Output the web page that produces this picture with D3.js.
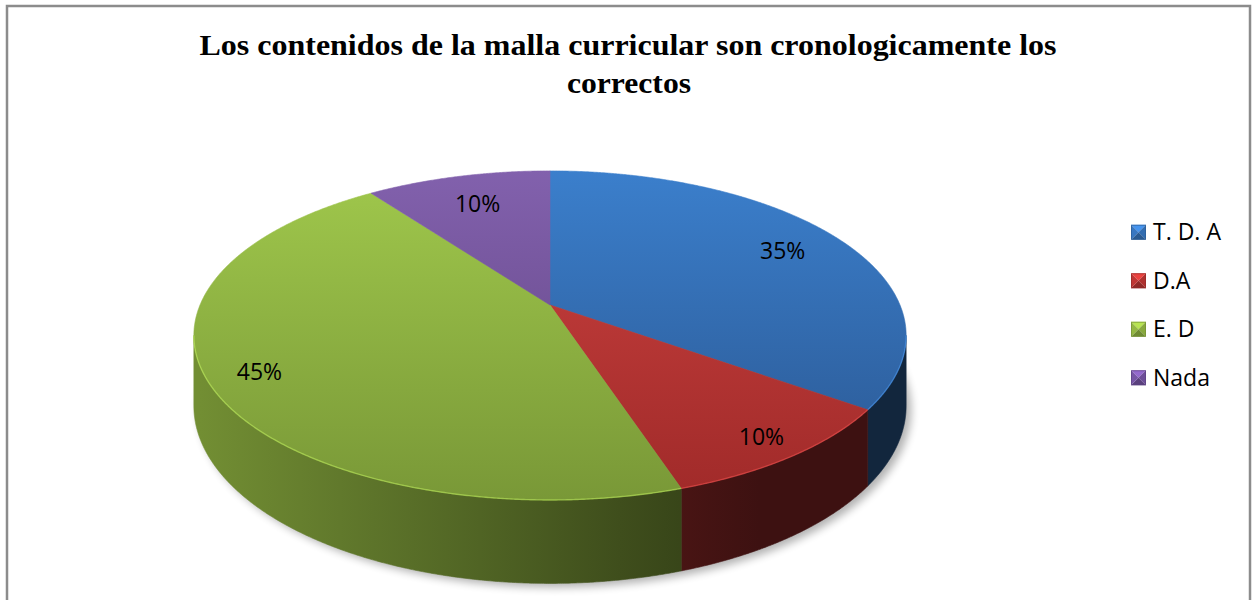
<!DOCTYPE html>
<html><head><meta charset="utf-8">
<script src="https://cdnjs.cloudflare.com/ajax/libs/d3/7.8.5/d3.min.js"></script>
<style>html,body{margin:0;padding:0;background:#fff;} svg{display:block;}</style>
</head><body>
<svg id="chart" width="1256" height="600"></svg>
<script>
const categories = ["T. D. A", "D.A", "E. D", "Nada"];
const values = [35, 10, 45, 10];
const valueLabels = ["35%", "10%", "45%", "10%"];
const titleLines = ["Los contenidos de la malla curricular son cronologicamente los", "correctos"];
const colors = ["#3673ba", "#b83432", "#8fb240", "#7352a0"];
const topLight = ["#3b7fcc", "#cc4240", "#a0c84c", "#8261ad"];
const topDark  = ["#2a5690", "#a02a29", "#799837", "#5f4280"];

const W = 1256, H = 600;
const svg = d3.select("#chart");
const defs = svg.append("defs");

// projection of a tilted disc with mild perspective
const cx = 550, cy = 305, R = 350, Ry = 158.9, kPersp = 0.185, depth = 68;
function proj(theta, f, h) {
  const d = f * Math.cos(theta);
  const w = 1 / (1 + kPersp * d);
  return [cx + R * f * Math.sin(theta) * w, cy - Ry * f * Math.cos(theta) * w + depth * h * w];
}
function arcPoints(a0, a1, h) {
  const n = Math.max(2, Math.ceil(Math.abs(a1 - a0) / 0.005) + 1);
  return d3.range(n).map(i => proj(a0 + (a1 - a0) * i / (n - 1), 1, h));
}
// silhouette angles
let thR = 0, thL = Math.PI, maxX = -1e9, minX = 1e9;
for (let t = 0; t <= 2 * Math.PI; t += 0.001) {
  const x = proj(t, 1, 0)[0];
  if (t <= Math.PI && x > maxX) { maxX = x; thR = t; }
  if (t >= Math.PI && x < minX) { minX = x; thL = t; }
}

const pie = d3.pie().sort(null).value(d => d).startAngle(0).endAngle(2 * Math.PI);
const arcs = pie(values);
const line = d3.line();

// gradients
function scaleColor(hex, s) {
  const c = d3.rgb(hex);
  return d3.rgb(c.r * s, c.g * s, c.b * s).formatHex();
}
arcs.forEach((a, i) => {
  const gt = defs.append("linearGradient").attr("id", "top" + i)
    .attr("gradientUnits", "userSpaceOnUse").attr("x1", 0).attr("y1", 170).attr("x2", 0).attr("y2", 500);
  gt.append("stop").attr("offset", 0).attr("stop-color", topLight[i]);
  gt.append("stop").attr("offset", 1).attr("stop-color", topDark[i]);
  const gs = defs.append("linearGradient").attr("id", "side" + i)
    .attr("gradientUnits", "userSpaceOnUse").attr("x1", cx - R).attr("y1", 0).attr("x2", cx + R).attr("y2", 0);
  [0, 0.2, 0.4, 0.6, 0.8, 1].forEach(t => {
    gs.append("stop").attr("offset", t).attr("stop-color", scaleColor(colors[i], Math.max(0.33, 0.8 - 0.6 * t)));
  });
});
const blur = defs.append("filter").attr("id", "shadowBlur").attr("x", "-20%").attr("y", "-20%").attr("width", "140%").attr("height", "140%");
blur.append("feGaussianBlur").attr("stdDeviation", 4);

// border
svg.append("rect").attr("x", 7).attr("y", 6).attr("width", 1243).attr("height", 640)
  .attr("fill", "none").attr("stroke", "#8c8c8c").attr("stroke-width", 2.5);

// title
const title = svg.append("g").attr("font-family", "'Liberation Serif', 'Times New Roman', serif")
  .attr("font-weight", "bold").attr("font-size", 30).attr("text-anchor", "middle");
title.append("text").attr("x", 628).attr("y", 55).attr("textLength", 857).attr("lengthAdjust", "spacingAndGlyphs").text(titleLines[0]);
title.append("text").attr("x", 629).attr("y", 93).attr("textLength", 124).attr("lengthAdjust", "spacingAndGlyphs").text(titleLines[1]);

// shadow
const pieG = svg.append("g");
pieG.append("path")
  .attr("d", line(arcPoints(0, 2 * Math.PI, 1)) + "Z")
  .attr("transform", "translate(5,4)")
  .attr("fill", "#000").attr("opacity", 0.3).attr("filter", "url(#shadowBlur)");

// sides
arcs.forEach((a, i) => {
  const a0 = Math.max(a.startAngle, thR), a1 = Math.min(a.endAngle, thL);
  if (a0 >= a1) return;
  const pts = arcPoints(a0, a1, 0).concat(arcPoints(a1, a0, 1));
  pieG.append("path").attr("d", line(pts) + "Z").attr("fill", "url(#side" + i + ")")
    .attr("stroke", "url(#side" + i + ")").attr("stroke-width", 0.6);
});
// tops
arcs.forEach((a, i) => {
  const pts = [[cx, cy]].concat(arcPoints(a.startAngle, a.endAngle, 0));
  pieG.append("path").attr("d", line(pts) + "Z").attr("fill", "url(#top" + i + ")")
    .attr("stroke", "url(#top" + i + ")").attr("stroke-width", 0.6);
});
// rim highlight on front edge
arcs.forEach((a, i) => {
  const a0 = Math.max(a.startAngle, thR), a1 = Math.min(a.endAngle, thL);
  if (a0 >= a1) return;
  pieG.append("path").attr("d", line(arcPoints(a0, a1, 0))).attr("fill", "none")
    .attr("stroke", d3.rgb(topLight[i]).brighter(0.6)).attr("stroke-width", 1.4).attr("opacity", 0.5);
});

// data labels
arcs.forEach((a, i) => {
  const mid = (a.startAngle + a.endAngle) / 2;
  const f = 0.83 - 0.075 * Math.cos(mid);
  const p = proj(mid, f, 0);
  pieG.append("text").attr("x", p[0]).attr("y", p[1] + 8).attr("text-anchor", "middle")
    .attr("font-family", "'Open Sans', sans-serif").attr("font-size", 23).attr("fill", "#000")
    .text(valueLabels[i]);
});

// legend
const ly = d3.scaleBand().domain(categories).range([208, 402]);
const sq = 15, lx = 1131;
const leg = svg.append("g");
categories.forEach((c, i) => {
  const yc = ly(c) + ly.bandwidth() / 2;
  const x0 = lx, y0 = yc - sq / 2, mx = lx + sq / 2, my = yc;
  const base = d3.rgb(colors[i]);
  const tri = [
    [[x0, y0], [x0 + sq, y0], [mx, my], base.brighter(0.7)],
    [[x0 + sq, y0], [x0 + sq, y0 + sq], [mx, my], base.darker(0.15)],
    [[x0 + sq, y0 + sq], [x0, y0 + sq], [mx, my], base.darker(0.7)],
    [[x0, y0 + sq], [x0, y0], [mx, my], base.brighter(0.1)]
  ];
  tri.forEach(t => leg.append("path").attr("d", line(t.slice(0, 3)) + "Z").attr("fill", t[3]));
  leg.append("rect").attr("x", x0 + 0.5).attr("y", y0 + 0.5).attr("width", sq - 1).attr("height", sq - 1)
    .attr("fill", "none").attr("stroke", base.darker(0.6)).attr("stroke-width", 1).attr("opacity", 0.7);
  leg.append("text").attr("x", 1153).attr("y", yc + 8)
    .attr("font-family", "'Open Sans', sans-serif").attr("font-size", 23).attr("fill", "#000").text(c);
});
</script>
</body></html>
